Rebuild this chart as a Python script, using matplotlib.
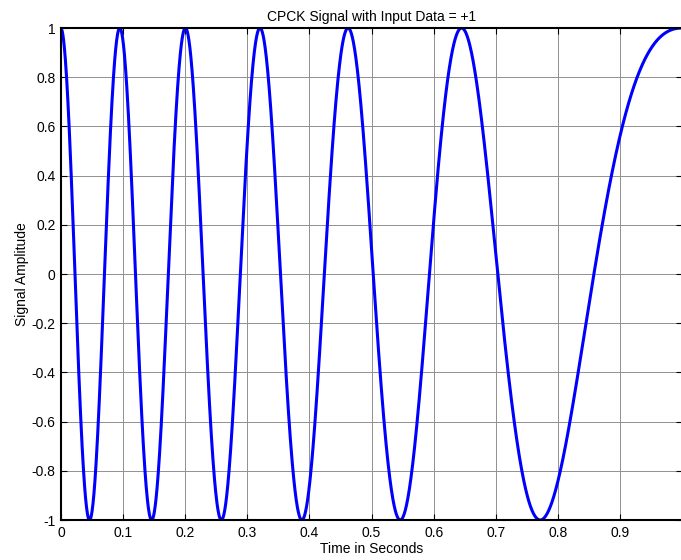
import numpy as np
import matplotlib
matplotlib.use("Agg")
import matplotlib.pyplot as plt

plt.rcParams['font.family'] = ['Liberation Sans', 'DejaVu Sans']

# points on the signal (time in s, phase in cycles):
# peaks, troughs and a few zero / level crossings near the end
phase_times = [0.0, 0.045, 0.095, 0.146, 0.2008, 0.2575, 0.321,
               0.387, 0.463, 0.545, 0.5935, 0.645, 0.704, 0.771,
               0.860, 0.9, 0.929, 1.0]
phase_cycles = [0.0, 0.5, 1.0, 1.5, 2.0, 2.5, 3.0,
                3.5, 4.0, 4.5, 4.75, 5.0, 5.25, 5.5,
                5.75, 5.852, 5.898, 6.0]
yticks = [-1, -0.8, -0.6, -0.4, -0.2, 0, 0.2, 0.4, 0.6, 0.8, 1]
ytick_labels = ['-1', '-0.8', '-0.6', '-0.4', '-0.2', '0',
                '0.2', '0.4', '0.6', '0.8', '1']
xticks = [0, 0.1, 0.2, 0.3, 0.4, 0.5, 0.6, 0.7, 0.8, 0.9]
xtick_labels = ['0', '0.1', '0.2', '0.3', '0.4', '0.5', '0.6', '0.7', '0.8', '0.9']

# smooth phase through the read points
coef = np.polyfit(phase_times, phase_cycles, 5)
t = np.linspace(0, 1, 2000)
sig = np.cos(2 * np.pi * np.polyval(coef, t))

fig = plt.figure(figsize=(6.81, 5.6), dpi=100)
ax = fig.add_axes([0.0896, 0.0714, 0.9120, 0.8786])

ax.plot(t, sig, color='#0000ff', lw=2.2)

ax.set_xlim(0, 1)
ax.set_ylim(-1, 1)
ax.set_xticks(xticks)
ax.set_xticklabels(xtick_labels)
ax.set_yticks(yticks)
ax.set_yticklabels(ytick_labels)
ax.tick_params(direction='in', top=True, right=True, labelsize=10, length=4, pad=4)
ax.grid(True, color='#909090', lw=0.7, ls='-')
ax.set_axisbelow(True)
for sp in ax.spines.values():
    sp.set_linewidth(1.5)
ax.spines['right'].set_visible(False)

ax.set_title('CPCK Signal with Input Data = +1', fontsize=10, pad=5)
ax.set_xlabel('Time in Seconds', fontsize=10, labelpad=2)
ax.set_ylabel('Signal Amplitude', fontsize=10, labelpad=2)

fig.savefig('out.png', dpi=100)
